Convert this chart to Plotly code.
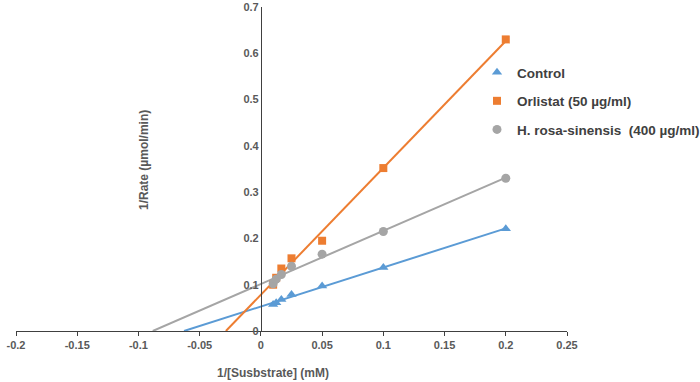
import numpy as np
import plotly.graph_objects as go

# Data (1/[S] in mM^-1, 1/rate)
inv_substrate = [0.01, 0.0125, 0.0167, 0.025, 0.05, 0.1, 0.2]
control = [0.057, 0.061, 0.068, 0.079, 0.097, 0.137, 0.221]
orlistat = [0.100, 0.115, 0.135, 0.157, 0.195, 0.352, 0.630]
hibiscus = [0.102, 0.112, 0.122, 0.140, 0.166, 0.215, 0.330]

series_names = ["Control", "Orlistat (50 µg/ml)", "H. rosa-sinensis \u00a0(400 µg/ml)"]
series_values = [control, orlistat, hibiscus]
series_colors = ["#5B9BD5", "#ED7D31", "#A5A5A5"]
series_symbols = ["triangle-up", "square", "circle"]

x_ticks = [-0.2, -0.15, -0.1, -0.05, 0, 0.05, 0.1, 0.15, 0.2, 0.25]
x_ticktext = ["-0.2", "-0.15", "-0.1", "-0.05", "0", "0.05", "0.1", "0.15", "0.2", "0.25"]
y_ticks = [0, 0.1, 0.2, 0.3, 0.4, 0.5, 0.6, 0.7]
y_ticktext = ["0", "0.1", "0.2", "0.3", "0.4", "0.5", "0.6", "0.7"]

X_RANGE = [-0.2, 0.25]
Y_RANGE = [0, 0.7]

FONT = "Liberation Sans, Arial, sans-serif"
TXT = "#595959"

fig = go.Figure()

# Linear trendlines, extended back to the x-intercept
for vals, col in zip(series_values, series_colors):
    m, b = np.polyfit(inv_substrate, vals, 1)
    x0 = -b / m
    x1 = max(inv_substrate)
    fig.add_trace(go.Scatter(
        x=[x0, x1], y=[m * x0 + b, m * x1 + b], mode="lines",
        line=dict(color=col, width=2), showlegend=False, hoverinfo="skip"))

for i, (name, vals, col, sym) in enumerate(zip(series_names, series_values, series_colors, series_symbols)):
    fig.add_trace(go.Scatter(
        x=inv_substrate, y=vals, mode="markers", name=name,
        legendgroup=f"g{i}",
        marker=dict(symbol=sym, color=col, size=9 if sym != "square" else 8,
                    line=dict(width=0))))

ML, MR, MT, MB = 16, 133, 7, 51
W, H = 700, 382
pw = W - ML - MR
ph = H - MT - MB
y_axis_pos = (0 - X_RANGE[0]) / (X_RANGE[1] - X_RANGE[0])

fig.update_layout(
    width=W, height=H,
    margin=dict(l=ML, r=MR, t=MT, b=MB, autoexpand=False),
    paper_bgcolor="white", plot_bgcolor="white",
    font=dict(family=FONT, color=TXT, size=11),
    xaxis=dict(range=X_RANGE, tickvals=x_ticks, ticktext=x_ticktext,
               showline=True, linecolor="#404040", linewidth=1,
               ticks="outside", ticklen=4, tickcolor="#404040",
               showgrid=False, zeroline=False, automargin=False,
               tickfont=dict(family=FONT, size=11, color=TXT, weight="bold")),
    # overlay axis adding the upper half of the crossing tick marks
    xaxis2=dict(range=X_RANGE, overlaying="x", anchor="y", side="bottom",
                tickvals=x_ticks, showticklabels=False, showline=False,
                ticks="inside", ticklen=4, tickcolor="#404040",
                showgrid=False, zeroline=False, automargin=False),
    yaxis=dict(range=Y_RANGE, tickvals=y_ticks, ticktext=y_ticktext,
               anchor="free", position=y_axis_pos,
               showline=True, linecolor="#404040", linewidth=1,
               ticks="", showgrid=False, zeroline=False, automargin=False,
               tickfont=dict(family=FONT, size=11, color=TXT, weight="bold")),
    legend=dict(x=(477 - ML) / pw, y=(H - MB - 57) / ph, xanchor="left", yanchor="top",
                bgcolor="rgba(0,0,0,0)", tracegroupgap=8,
                font=dict(family=FONT, size=13.5, color="#404040", weight="bold")),
    showlegend=True,
    annotations=[
        dict(text="1/[Susbstrate] (mM)", xref="paper", yref="paper",
             x=(273 - ML) / pw, y=(H - MB - 373) / ph, showarrow=False,
             xanchor="center", yanchor="middle",
             font=dict(family=FONT, size=12, color=TXT, weight="bold")),
        dict(text="1/Rate (µmol/min)", xref="paper", yref="paper",
             x=(144 - ML) / pw, y=(H - MB - 160) / ph, showarrow=False,
             textangle=-90, xanchor="center", yanchor="middle",
             font=dict(family=FONT, size=12, color=TXT, weight="bold")),
    ],
)

fig.write_html("out.html", config={"displayModeBar": False},
               post_script="document.body.style.margin='0';document.body.style.overflow='hidden';")
